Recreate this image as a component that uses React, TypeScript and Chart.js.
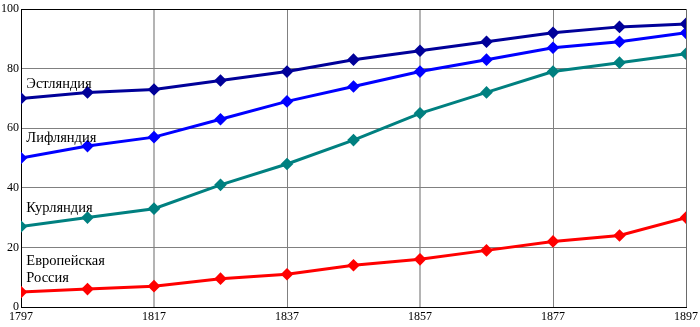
import React, { useEffect, useRef } from "react";
import { Chart, registerables } from "chart.js";

Chart.register(...registerables);

const years = [1797, 1807, 1817, 1827, 1837, 1847, 1857, 1867, 1877, 1887, 1897];
const estonia = [70, 72, 73, 76, 79, 83, 86, 89, 92, 94, 95];
const livonia = [50, 54, 57, 63, 69, 74, 79, 83, 87, 89, 92];
const courland = [27, 30, 33, 41, 48, 56, 65, 72, 79, 82, 85];
const euroRussia = [5, 6, 7, 9.5, 11, 14, 16, 19, 22, 24, 30];

const seriesNames = ["Эстляндия", "Лифляндия", "Курляндия", "Европейская Россия"];
const seriesColors = ["#000099", "#0000FF", "#008080", "#FF0000"];

// annotation labels: [text lines, x (year), y (value of first line centre)]
const labelLines = [["Эстляндия"], ["Лифляндия"], ["Курляндия"], ["Европейская", "Россия"]];
const labelX = [1797.8, 1797.8, 1797.8, 1797.8];
const labelY = [74.8, 56.5, 33, 15.4];
const lineStepValue = 5.7;

const FONT = "'Liberation Serif', 'Times New Roman', serif";

const labelPlugin = {
  id: "seriesLabels",
  afterDatasetsDraw(chart: any) {
    const { ctx, scales } = chart;
    ctx.save();
    ctx.font = `14.5px ${FONT}`;
    ctx.fillStyle = "#000";
    ctx.textAlign = "left";
    ctx.textBaseline = "middle";
    labelLines.forEach((lines, i) => {
      lines.forEach((t, j) => {
        const px = scales.x.getPixelForValue(labelX[i]);
        const py = scales.y.getPixelForValue(labelY[i] - j * lineStepValue);
        ctx.fillText(t, px, py);
      });
    });
    ctx.restore();
  },
};

export default function App() {
  const ref = useRef<HTMLCanvasElement | null>(null);
  useEffect(() => {
    document.body.style.margin = "0";
    const data = [estonia, livonia, courland, euroRussia];
    const chart = new Chart(ref.current as HTMLCanvasElement, {
      type: "line",
      data: {
        datasets: data.map((vals, i) => ({
          label: seriesNames[i],
          data: years.map((y, k) => ({ x: y, y: vals[k] })),
          borderColor: seriesColors[i],
          backgroundColor: seriesColors[i],
          borderWidth: 3,
          pointStyle: "rectRot",
          pointRadius: 4.2,
          pointHoverRadius: 4.2,
          tension: 0,
          fill: false,
        })),
      },
      options: {
        animation: false,
        responsive: false,
        maintainAspectRatio: false,
        layout: { padding: { top: 9, right: 14, left: 0, bottom: 0 } },
        plugins: { legend: { display: false }, tooltip: { enabled: false } },
        scales: {
          x: {
            type: "linear",
            min: 1797,
            max: 1897,
            ticks: {
              stepSize: 20,
              font: { family: FONT, size: 12 },
              color: "#000",
              padding: 3,
              maxRotation: 0,
              callback: (v: any) => String(v),
            },
            grid: {
              drawTicks: false,
              color: (c: any) => {
                const v = c.tick?.value;
                if (v === 1817 || v === 1857) return "#b4b4b4";
                if (v === 1897) return "#6a6a6a";
                return "#808080";
              },
              lineWidth: (c: any) => {
                const v = c.tick?.value;
                return v === 1817 || v === 1857 ? 2 : 1;
              },
            },
            border: { color: "#000", width: 1 },
            afterFit: (s: any) => {
              s.height = 20;
              s.paddingLeft = 0;
              s.paddingRight = 0;
            },
          },
          y: {
            min: 0,
            max: 100,
            ticks: {
              stepSize: 20,
              font: { family: FONT, size: 12 },
              color: "#000",
              padding: 2,
            },
            grid: {
              drawTicks: false,
              color: (c: any) => (c.tick?.value === 100 ? "#000" : "#808080"),
              lineWidth: 1,
            },
            border: { color: "#000", width: 1 },
            afterFit: (s: any) => {
              s.width = 21;
              s.paddingTop = 0;
              s.paddingBottom = 0;
            },
          },
        },
      },
      plugins: [labelPlugin],
    });
    return () => chart.destroy();
  }, []);
  return (
    <div style={{ position: "relative", width: 700, height: 327 }}>
      <canvas ref={ref} width={700} height={327} style={{ display: "block" }} />
    </div>
  );
}
